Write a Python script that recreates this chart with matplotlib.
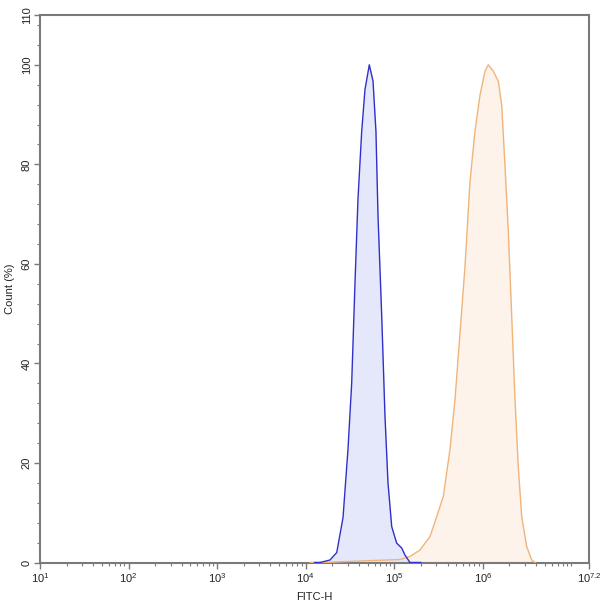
import numpy as np
import matplotlib
matplotlib.use("Agg")
import matplotlib.pyplot as plt
from matplotlib.ticker import FixedLocator, NullFormatter

plt.rcParams['font.family'] = ['Liberation Sans', 'DejaVu Sans']
plt.rcParams['mathtext.fontset'] = 'custom'
plt.rcParams['mathtext.rm'] = 'Liberation Sans'
plt.rcParams['mathtext.it'] = 'Liberation Sans'
plt.rcParams['mathtext.default'] = 'regular'

# Control (blue) histogram: log10(FITC-H) and count (%)
blue_log = [4.10, 4.162, 4.275, 4.351, 4.422, 4.478, 4.520, 4.557, 4.591, 4.633, 4.670, 4.719,
            4.761, 4.794, 4.817, 4.859, 4.896, 4.930, 4.972, 5.028, 5.085, 5.122, 5.178, 5.30]
blue_cnt = [0.0, 0.0, 0.5, 2.0, 9.0, 22.7, 36.0, 56.0, 73.0, 86.6, 95.0, 100.0,
            96.7, 86.6, 69.7, 49.6, 29.4, 16.0, 7.2, 3.9, 2.9, 1.5, 0.0, 0.0]

# Stained sample (orange) histogram
orange_log = [4.05, 4.196, 4.614, 5.066, 5.178, 5.291, 5.404, 5.480, 5.555, 5.630, 5.687, 5.743,
              5.800, 5.856, 5.912, 5.969, 6.025, 6.063, 6.119, 6.176, 6.214, 6.251, 6.289,
              6.327, 6.364, 6.401, 6.440, 6.496, 6.553, 6.590]
orange_cnt = [0.0, 0.0, 0.3, 0.6, 1.2, 2.5, 5.2, 9.2, 13.3, 22.7, 32.8, 46.0,
              59.6, 76.5, 86.6, 93.9, 98.7, 100.0, 98.7, 96.7, 91.9, 79.8, 66.4,
              49.6, 32.8, 19.3, 9.2, 3.2, 0.5, 0.0]

x_major = [1, 2, 3, 4, 5, 6, 7.2]
x_labels = [r'$10^{1}$', r'$10^{2}$', r'$10^{3}$', r'$10^{4}$', r'$10^{5}$', r'$10^{6}$', r'$10^{7.2}$']
y_major = [0, 20, 40, 60, 80, 100, 110]

fig = plt.figure(figsize=(6.0, 6.02), dpi=100)
ax = fig.add_axes([40/600, 1 - 562.5/602, (589-40)/600, (562.5-15)/602])

bx = 10 ** np.array(blue_log)
ox = 10 ** np.array(orange_log)

ax.fill_between(ox, orange_cnt, 0, color='#fdf3ea', lw=0, zorder=1)
ax.fill_between(bx, blue_cnt, 0, color='#e5e7fb', lw=0, zorder=2)
ax.plot(ox, orange_cnt, color='#f0b47a', lw=1.0, zorder=3)
ax.plot(bx, blue_cnt, color='#3030c8', lw=1.0, zorder=4)

ax.set_xscale('log')
ax.set_xlim(10 ** 1, 10 ** 7.2)
ax.set_ylim(0, 110)

ax.xaxis.set_major_locator(FixedLocator([10 ** v for v in x_major]))
ax.set_xticklabels(x_labels)
minors = []
for d in range(1, 8):
    for m in range(2, 10):
        v = m * 10 ** d
        if v < 10 ** 7.2:
            minors.append(v)
minors.append(10 ** 7)
ax.xaxis.set_minor_locator(FixedLocator(minors))
ax.xaxis.set_minor_formatter(NullFormatter())

ax.set_yticks(y_major)
ax.set_yticklabels([str(v) for v in y_major], rotation=90, va='center')
ax.yaxis.set_minor_locator(FixedLocator([v for v in range(4, 110, 4) if v % 20 != 0]))

for s in ax.spines.values():
    s.set_color('#7a7a7a')
    s.set_linewidth(1.5)

ax.tick_params(axis='both', which='major', length=4, width=1, color='#7a7a7a',
               labelsize=8, labelcolor='#222222', pad=2)
ax.tick_params(axis='both', which='minor', length=2.5, width=0.8, color='#7a7a7a')
ax.tick_params(axis='x', which='major', pad=2)

ax.set_xlabel('FITC-H', fontsize=8, color='#222222', labelpad=5)
ax.set_ylabel('Count (%)', fontsize=8, color='#222222', labelpad=5)

fig.savefig('out.png', dpi=100)
